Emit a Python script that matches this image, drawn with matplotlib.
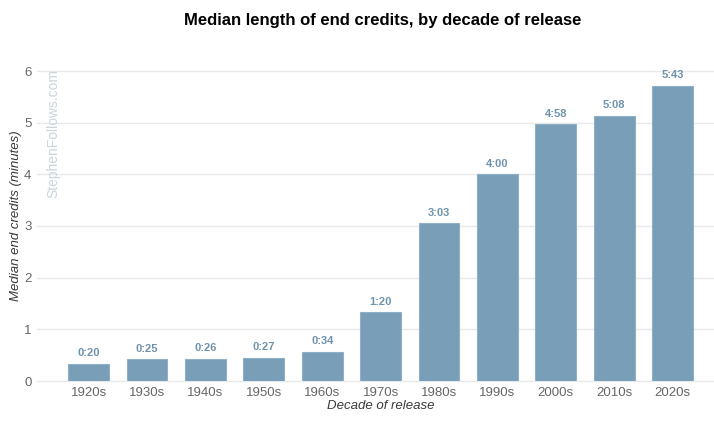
import matplotlib
matplotlib.use("Agg", force=True)
import matplotlib.pyplot as plt
import numpy as np

plt.rcParams["font.family"] = ["Liberation Sans", "DejaVu Sans"]

decades = ["1920s", "1930s", "1940s", "1950s", "1960s", "1970s",
           "1980s", "1990s", "2000s", "2010s", "2020s"]
credit_labels = ["0:20", "0:25", "0:26", "0:27", "0:34", "1:20",
                 "3:03", "4:00", "4:58", "5:08", "5:43"]
# median length in minutes, derived from the m:ss labels
credit_minutes = [20/60, 25/60, 26/60, 27/60, 34/60, 80/60,
                  183/60, 240/60, 298/60, 308/60, 343/60]

BAR = "#789eb8"
EDGE = "#8fb0c7"
LABEL = "#6f93ad"

W, H = 714, 421
fig = plt.figure(figsize=(W/100, H/100), dpi=100)
ax = fig.add_axes([37/W, 1 - 381/H, 1 - 37/W, (381 - 71)/H])

x = np.arange(len(decades))
bars = ax.bar(x, credit_minutes, width=0.70, color=BAR, edgecolor=EDGE,
              linewidth=0.8, zorder=2)
for bar, lab in zip(bars, credit_labels):
    ax.annotate(lab, (bar.get_x() + bar.get_width()/2, bar.get_height()),
                xytext=(0, 4), textcoords="offset points", ha="center",
                va="bottom", fontsize=8, fontweight="bold", color=LABEL)

ax.set_xlim(-0.885, 10.71)
ax.set_ylim(0, 6)
ax.set_xticks(x)
ax.set_xticklabels(decades)
ax.set_yticks(range(0, 7))
ax.tick_params(axis="both", length=0, labelsize=9.5, labelcolor="#666666")
ax.tick_params(axis="x", pad=4)
ax.tick_params(axis="y", pad=4)
ax.grid(axis="y", color="#e9e9e9", linewidth=1, zorder=0)
ax.set_axisbelow(True)
for s in ax.spines.values():
    s.set_visible(False)
for gl in ax.get_ygridlines():
    gl.set_clip_on(False)

fig.text(381/W, 1 - 406/H, "Decade of release", ha="center", va="center",
         fontsize=9.5, style="italic", color="#3a3a3a")
fig.text(16/W, 1 - 216/H, "Median end credits (minutes)", rotation=90,
         ha="center", va="center", fontsize=9.5, style="italic", color="#3a3a3a")

fig.text(53/W, 1 - 133/H, "StephenFollows.com", rotation=90,
         ha="center", va="center", fontsize=10, color="#c8d6e0")
fig.text(383/W, 1 - 20/H, "Median length of end credits, by decade of release",
         ha="center", va="center", fontsize=12, fontweight="bold", color="black")

fig.savefig("out.png", dpi=100)
